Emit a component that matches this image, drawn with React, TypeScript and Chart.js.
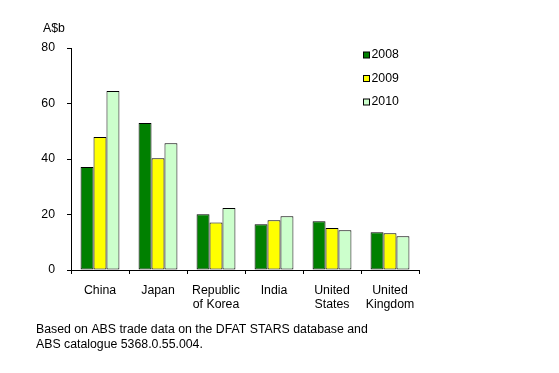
import React, { useEffect, useRef } from "react";
import { Chart, registerables } from "chart.js";

Chart.register(...registerables);

const categories: string[][] = [
  ["China"],
  ["Japan"],
  ["Republic", "of Korea"],
  ["India"],
  ["United", "States"],
  ["United", "Kingdom"],
];
const seriesNames = ["2008", "2009", "2010"];
const s2008 = [37.1, 53.0, 20.1, 16.5, 17.6, 13.6];
const s2009 = [47.9, 40.3, 17.1, 17.9, 15.1, 13.2];
const s2010 = [64.5, 45.7, 22.3, 19.4, 14.3, 12.2];
const seriesColors = ["#008000", "#FFFF00", "#CCFFCC"];
const yTicks = [0, 20, 40, 60, 80];
const yUnit = "A$b";
const footnote = [
  "Based on ABS trade data on the DFAT STARS database and",
  "ABS catalogue 5368.0.55.004.",
];

const FONT = "Liberation Sans, Arial, sans-serif";

export default function App() {
  const ref = useRef<HTMLCanvasElement | null>(null);
  useEffect(() => {
    if (!ref.current) return;
    const overlay = {
      id: "overlay",
      afterDraw(chart: any) {
        const ctx = chart.ctx;
        ctx.save();
        ctx.font = `12.3px ${FONT}`;
        ctx.fillStyle = "#000";
        ctx.textBaseline = "middle";
        ctx.textAlign = "left";
        // unit label
        ctx.fillText(yUnit, 43, 29);
        // legend
        const legendY = [55, 78.5, 102];
        chart.data.datasets.forEach((ds: any, i: number) => {
          const y = legendY[i];
          ctx.fillStyle = ds.backgroundColor;
          ctx.fillRect(363.5, y - 3, 6, 6);
          ctx.strokeStyle = "#000";
          ctx.lineWidth = 1;
          ctx.strokeRect(363.5, y - 3, 6, 6);
          ctx.fillStyle = "#000";
          ctx.fillText(ds.label, 371.5, y);
        });
        // footnote
        footnote.forEach((line, i) => {
          ctx.fillText(line, 36, 330 + i * 14.5);
        });
        ctx.restore();
      },
    };
    const chart = new Chart(ref.current, {
      type: "bar",
      data: {
        labels: categories,
        datasets: [s2008, s2009, s2010].map((d, i) => ({
          label: seriesNames[i],
          data: d,
          backgroundColor: seriesColors[i],
          borderColor: "#000",
          borderWidth: 1,
          borderSkipped: false,
          categoryPercentage: 0.67,
          barPercentage: 1,
        })),
      },
      options: {
        animation: false,
        responsive: false,
        layout: { padding: { left: 0, right: 140, top: 48, bottom: 0 } },
        plugins: {
          legend: { display: false },
          tooltip: { enabled: false },
          title: { display: false },
        },
        scales: {
          x: {
            grid: {
              display: true,
              drawOnChartArea: false,
              drawTicks: true,
              tickLength: 4,
              color: "#000",
              offset: true,
            },
            border: { display: true, color: "#000", width: 1 },
            ticks: {
              color: "#000",
              font: { family: FONT, size: 12.3, lineHeight: 1.1 },
              padding: 10,
              maxRotation: 0,
              autoSkip: false,
            },
            afterFit: (s: any) => {
              s.height = 103;
            },
          },
          y: {
            min: 0,
            max: 80,
            afterBuildTicks: (s: any) => {
              s.ticks = yTicks.map((v) => ({ value: v }));
            },
            grid: {
              display: true,
              drawOnChartArea: false,
              drawTicks: true,
              tickLength: 4,
              color: "#000",
            },
            border: { display: true, color: "#000", width: 1 },
            ticks: {
              color: "#000",
              font: { family: FONT, size: 12.3 },
              padding: 12,
            },
            afterFit: (s: any) => {
              s.width = 71;
            },
          },
        },
      },
      plugins: [overlay],
    });
    return () => chart.destroy();
  }, []);
  return (
    <div style={{ position: "absolute", left: 0, top: 0, width: 559, height: 373, background: "#fff" }}>
      <canvas ref={ref} width={559} height={373} style={{ width: 559, height: 373, display: "block" }} />
    </div>
  );
}
